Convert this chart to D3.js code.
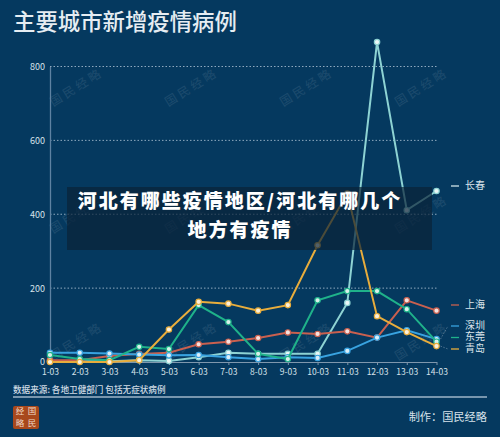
<!DOCTYPE html>
<html>
<head>
<meta charset="utf-8">
<script src="https://cdn.jsdelivr.net/npm/d3@7"></script>
<style>
  html, body { margin: 0; padding: 0; background: #05395f; }
  svg { display: block; }
  text { font-family: "Noto Sans CJK SC", "Noto Sans", sans-serif; }
</style>
</head>
<body>
<div id="chart"></div>
<script>
const days = ["1-03","2-03","3-03","4-03","5-03","6-03","7-03","8-03","9-03","10-03","11-03","12-03","13-03","14-03"];
const yTicks = [0, 200, 400, 600, 800];

const changchun = [2, 2, 2, 5, 3, 13, 25, 22, 22, 22, 160, 866, 411, 463];
const shanghai = [5, 5, 16, 22, 25, 48, 55, 65, 80, 76, 83, 66, 167, 139];
const shenzhen = [25, 25, 23, 20, 18, 19, 13, 8, 13, 11, 30, 66, 86, 62];
const dongguan = [19, 8, 5, 41, 35, 154, 108, 22, 8, 167, 192, 192, 143, 55];
const qingdao = [0, 0, 0, 5, 88, 163, 158, 139, 154, 316, 456, 124, 81, 43];

const seriesNames = ["长春", "上海", "深圳", "东莞", "青岛"];
const seriesValues = [changchun, shanghai, shenzhen, dongguan, qingdao];
const seriesColors = ["#8ed3d3", "#c9604f", "#39a3e0", "#1fb28a", "#e8ad3c"];
const legendY = [186, 305, 326, 337.5, 349];

const watermarkText = "国民经略";
const wmColumns = [77, 192, 307, 422];
const wmRows = [88, 215, 342];

const width = 500, height = 437;
const svg = d3.select("#chart").append("svg")
  .attr("width", width)
  .attr("height", height);

const x = d3.scalePoint().domain(days).range([50, 436.5]);
const y = d3.scaleLinear().domain([0, 800]).range([362, 66.5]);

// faint watermarks
wmRows.forEach(wy => {
  wmColumns.forEach(wx => {
    svg.append("text")
      .attr("transform", `translate(${wx},${wy}) rotate(-32)`)
      .attr("text-anchor", "middle")
      .attr("dominant-baseline", "middle")
      .attr("font-size", 12)
      .attr("letter-spacing", 3)
      .attr("fill", "#ffffff")
      .attr("opacity", 0.09)
      .text(watermarkText);
  });
});

// title
svg.append("text")
  .attr("x", 13)
  .attr("y", 30)
  .attr("font-size", 22.4)
  .attr("font-weight", 500)
  .attr("fill", "#e6edf2")
  .text("主要城市新增疫情病例");

// grid
svg.append("g").selectAll("line")
  .data(yTicks.filter(d => d > 0))
  .join("line")
  .attr("x1", 50)
  .attr("x2", 436.5)
  .attr("y1", d => y(d))
  .attr("y2", d => y(d))
  .attr("stroke", "#8fa9bf")
  .attr("stroke-width", 1)
  .attr("stroke-dasharray", "1.5 2");

// axes
const yAxis = svg.append("g")
  .attr("transform", "translate(50,0)")
  .call(d3.axisLeft(y).tickValues(yTicks).tickSize(0).tickPadding(5));
yAxis.select(".domain").attr("stroke", "#5e82a2").attr("stroke-width", 1.3);
yAxis.selectAll("text").attr("fill", "#d7e2ea").attr("font-size", 9);

const xAxis = svg.append("g")
  .attr("transform", "translate(0,362)")
  .call(d3.axisBottom(x).tickSize(3).tickPadding(4).tickSizeOuter(0));
xAxis.select(".domain").attr("stroke", "#7f97ad");
xAxis.selectAll("line").attr("stroke", "#7f97ad");
xAxis.selectAll("text").attr("fill", "#d7e2ea").attr("font-size", 8.5);

// lines and points
const line = d3.line().x((d, i) => x(days[i])).y(d => y(d));

seriesValues.forEach((values, s) => {
  const color = seriesColors[s];
  svg.append("path")
    .attr("d", line(values))
    .attr("fill", "none")
    .attr("stroke", color)
    .attr("stroke-width", 2);
  svg.append("g").selectAll("circle")
    .data(values)
    .join("circle")
    .attr("cx", (d, i) => x(days[i]))
    .attr("cy", d => y(d))
    .attr("r", 2.7)
    .attr("fill", d3.interpolateRgb(color, "#ffffff")(0.82))
    .attr("stroke", color)
    .attr("stroke-width", 1.2);
});

// leader lines to the crowded legend labels
[[2, 448, 326], [4, 448, 349]].forEach(([s, lx, ly]) => {
  const last = seriesValues[s][days.length - 1];
  svg.append("path")
    .attr("d", `M${x("14-03") + 4},${y(last)}L${lx},${ly}`)
    .attr("fill", "none")
    .attr("stroke", "#6f8ca5")
    .attr("stroke-width", 0.7)
    .attr("stroke-dasharray", "1.5 1.5");
});

// legend
seriesNames.forEach((name, s) => {
  svg.append("line")
    .attr("x1", 451)
    .attr("x2", 459)
    .attr("y1", legendY[s])
    .attr("y2", legendY[s])
    .attr("stroke", s === 0 ? "#cfe3ea" : seriesColors[s])
    .attr("stroke-width", 1.3);
  svg.append("text")
    .attr("x", 465)
    .attr("y", legendY[s])
    .attr("dominant-baseline", "middle")
    .attr("font-size", 10)
    .attr("fill", "#dbe5ec")
    .text(name);
});

// footer
svg.append("text")
  .attr("x", 13)
  .attr("y", 393)
  .attr("font-size", 8.6)
  .attr("font-weight", 500)
  .attr("fill", "#cfdbe4")
  .text("数据来源: 各地卫健部门 包括无症状病例");

svg.append("line")
  .attr("x1", 13)
  .attr("x2", 487)
  .attr("y1", 397)
  .attr("y2", 397)
  .attr("stroke", "#9fb6c9")
  .attr("stroke-width", 1.3);

svg.append("rect")
  .attr("x", 13)
  .attr("y", 406)
  .attr("width", 26)
  .attr("height", 23)
  .attr("rx", 2)
  .attr("fill", "#a8481c");

[["经", 20, 412], ["国", 32, 412], ["略", 20, 424], ["民", 32, 424]].forEach(([c, cx, cy]) => {
  svg.append("text")
    .attr("x", cx)
    .attr("y", cy)
    .attr("text-anchor", "middle")
    .attr("dominant-baseline", "middle")
    .attr("font-size", 8.5)
    .attr("fill", "#efd9c6")
    .text(c);
});

svg.append("text")
  .attr("x", 487)
  .attr("y", 421)
  .attr("text-anchor", "end")
  .attr("font-size", 11.2)
  .attr("fill", "#d7e2ea")
  .text("制作：国民经略");

// headline banner over the chart
svg.append("rect")
  .attr("x", 67)
  .attr("y", 187)
  .attr("width", 365)
  .attr("height", 63)
  .attr("fill", "#0a2238")
  .attr("opacity", 0.7);

[["河北有哪些疫情地区/河北有哪几个", 203], ["地方有疫情", 232]].forEach(([t, ty]) => {
  svg.append("text")
    .attr("x", 240)
    .attr("y", ty)
    .attr("text-anchor", "middle")
    .attr("dominant-baseline", "middle")
    .attr("font-size", 19)
    .attr("font-weight", 900)
    .attr("letter-spacing", 2)
    .attr("fill", "#ffffff")
    .text(t);
});
</script>
</body>
</html>
